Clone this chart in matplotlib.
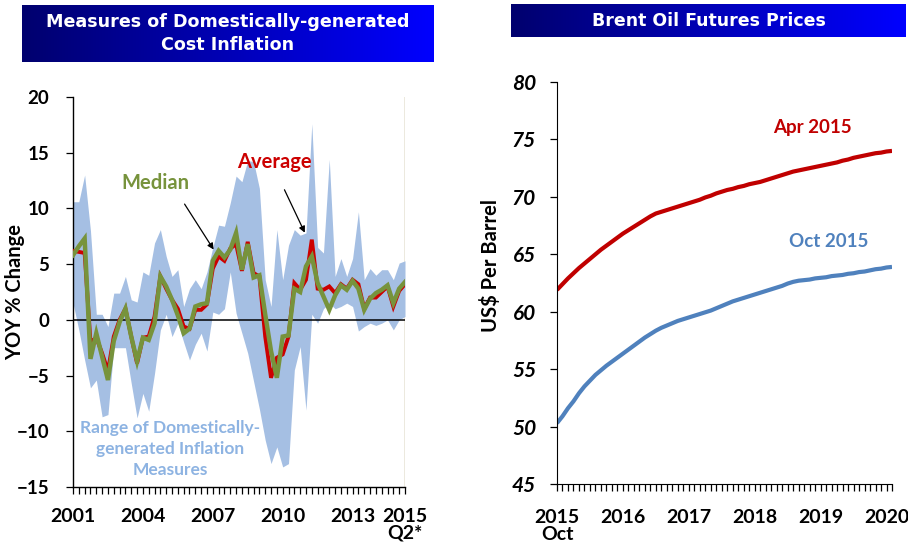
import numpy as np
import matplotlib
matplotlib.use("Agg")
import matplotlib.pyplot as plt
from matplotlib.colors import LinearSegmentedColormap

# ---------------- data: left chart (quarterly, 2001Q1 .. 2015Q2) ----------------
average = [6.2, 6.1, 6.0, -2.0, -1.6, -3.0, -4.6, -1.5, 0.0, 1.0, -1.5, -3.9, -1.6, -1.5, 0.3,
           3.9, 2.8, 1.8, 1.0, -0.6, -0.8, 0.9, 0.9, 1.4, 4.6, 5.7, 5.3, 6.4, 6.8, 4.4, 7.0,
           4.2, 3.9, -1.5, -5.2, -3.4, -3.1, -1.5, 3.3, 2.7, 3.6, 7.2, 2.8, 2.7, 3.0, 2.4, 3.2,
           2.8, 3.6, 3.2, 1.0, 2.0, 2.0, 2.5, 3.0, 1.2, 2.6, 3.2]
median = [5.8, 6.6, 7.3, -3.5, -1.2, -3.3, -5.4, -1.9, -0.2, 1.0, -1.5, -3.7, -1.6, -1.8, -0.3,
          3.9, 3.0, 1.8, 0.4, -1.2, -0.8, 1.2, 1.4, 1.5, 5.3, 6.2, 5.6, 6.3, 7.8, 4.5, 6.8,
          3.8, 4.0, 0.5, -2.8, -5.2, -1.5, -1.4, 2.8, 2.5, 4.8, 5.7, 3.3, 2.1, 0.9, 2.2, 3.1,
          2.7, 3.5, 2.8, 0.9, 1.9, 2.4, 2.7, 3.1, 1.5, 2.8, 3.4]
range_high = [10.6, 10.6, 13.0, 8.0, 0.5, 0.5, -0.6, 2.4, 2.4, 3.9, 1.8, 1.6, 4.3, 4.0, 6.9,
              8.1, 5.7, 3.9, 4.5, 1.2, 2.8, 3.6, 2.8, 4.3, 6.5, 8.5, 8.4, 10.5, 12.9, 12.4, 14.3,
              14.2, 11.8, 3.6, 1.2, 8.1, 3.6, 6.7, 8.1, 7.6, 7.8, 17.6, 6.5, 6.0, 14.4, 3.9, 5.5,
              3.9, 5.5, 9.7, 3.6, 4.6, 4.0, 4.5, 4.5, 3.6, 5.1, 5.3]
range_low = [1.5, -0.9, -3.6, -6.1, -5.4, -8.7, -8.5, -2.5, -2.5, -2.5, -5.7, -8.8, -6.6, -8.2, -4.8,
             -0.9, 0.5, -1.5, -0.3, -2.0, -3.6, -2.2, -1.2, -2.8, 0.7, 0.5, 1.0, 4.3, 0.6, -1.2, -3.0,
             -5.5, -8.0, -10.8, -12.9, -11.4, -13.2, -12.9, -4.5, -2.4, -8.1, 0.5, -0.3, 1.0, 1.5, 1.0, 1.2,
             1.5, 1.2, -1.0, -0.6, -0.3, -0.5, -0.3, 0.0, -0.9, 0.0, 0.3]
left_tick_labels = {0: "2001", 12: "2004", 24: "2007", 36: "2010", 48: "2013", 57: "2015\nQ2*"}

# ---------------- data: right chart (monthly, Oct 2015 .. Nov 2020) ----------------
brent_apr2015 = [61.9, 62.4, 62.9, 63.35, 63.8, 64.2, 64.6, 65.0, 65.4, 65.75, 66.1, 66.45, 66.8,
                 67.1, 67.4, 67.7, 68.0, 68.3, 68.55, 68.7, 68.85, 69.0, 69.15, 69.3, 69.45,
                 69.6, 69.75, 69.95, 70.1, 70.3, 70.45, 70.6, 70.7, 70.85, 70.95, 71.1, 71.2,
                 71.3, 71.45, 71.6, 71.75, 71.9, 72.05, 72.2, 72.3, 72.4, 72.5, 72.6, 72.7,
                 72.8, 72.9, 73.0, 73.15, 73.25, 73.4, 73.5, 73.6, 73.7, 73.8, 73.85, 73.95, 74.0]
brent_oct2015 = [50.3, 50.9, 51.6, 52.2, 52.9, 53.5, 54.0, 54.5, 54.9, 55.3, 55.65, 56.0, 56.35,
                 56.7, 57.05, 57.4, 57.75, 58.05, 58.35, 58.6, 58.8, 59.0, 59.2, 59.35, 59.5,
                 59.65, 59.8, 59.95, 60.1, 60.3, 60.5, 60.7, 60.9, 61.05, 61.2, 61.35, 61.5,
                 61.65, 61.8, 61.95, 62.1, 62.25, 62.45, 62.6, 62.7, 62.75, 62.8, 62.9, 62.95,
                 63.0, 63.1, 63.15, 63.2, 63.3, 63.35, 63.45, 63.5, 63.6, 63.7, 63.75, 63.85, 63.9]
right_tick_labels = {0: "2015\nOct", 12: "2016", 24: "2017", 36: "2018", 48: "2019", 60: "2020"}

W, H = 908, 554
fig = plt.figure(figsize=(W / 100, H / 100), dpi=100)

def fx(px):
    return px / W

def fy(py):
    return 1 - py / H

FONT = "Lato"
RED = "#cc0000"
GREEN = "#77933c"
BAND = "#a5bfe3"
LIGHTBLUE_TEXT = "#8db3e2"
BLUE = "#4f81bd"

# ---------------- title boxes ----------------
cmap = LinearSegmentedColormap.from_list("tb", ["#00006e", "#0000ff"])
grad = np.linspace(0, 1, 256).reshape(1, -1)

def title_box(x0, y0, x1, y1, text, size):
    tax = fig.add_axes([fx(x0), fy(y1), fx(x1) - fx(x0), (y1 - y0) / H])
    tax.imshow(grad, aspect="auto", cmap=cmap, extent=[0, 1, 0, 1])
    tax.set_axis_off()
    tax.text(0.5, 0.5, text, color="white", ha="center", va="center",
             fontsize=size, fontweight="bold", family="DejaVu Sans",
             linespacing=1.3, transform=tax.transAxes)

title_box(22, 5, 434, 62, "Measures of Domestically-generated\nCost Inflation", 12.6)
title_box(511, 4, 906, 37, "Brent Oil Futures Prices", 12.5)

# ---------------- left chart ----------------
ax1 = fig.add_axes([fx(73), fy(487), fx(405) - fx(73), (487 - 97) / H])
q = np.arange(len(average))
ax1.fill_between(q, range_low, range_high, color=BAND, lw=0, zorder=1)
ax1.axhline(0, color="black", lw=1.1, zorder=2)
ax1.plot(q, average, color=RED, lw=2.8, zorder=3, solid_joinstyle="miter")
ax1.plot(q, median, color=GREEN, lw=3.2, zorder=4, solid_joinstyle="miter")
ax1.set_xlim(0, len(average) - 1)
ax1.set_ylim(-15, 20)
ax1.set_yticks(np.arange(-15, 21, 5))
ax1.set_xticks(q)
ax1.set_xticklabels([left_tick_labels.get(i, "") for i in q])
for s in ["top", "right"]:
    ax1.spines[s].set_visible(False)
ax1.spines["left"].set_linewidth(1.0)
ax1.spines["bottom"].set_linewidth(1.0)
ax1.tick_params(axis="x", length=5, width=0.9, direction="out", pad=10)
ax1.tick_params(axis="y", length=5, width=0.9, direction="out", pad=12)
for lab in ax1.get_xticklabels():
    lab.set_fontfamily(FONT); lab.set_fontweight("bold"); lab.set_fontsize(14)
    lab.set_linespacing(0.95)
for lab in ax1.get_yticklabels():
    lab.set_fontfamily(FONT); lab.set_fontweight("bold"); lab.set_fontsize(13.5)
ax1.axvline(len(average) - 1, color="#e9e5d8", lw=1.2, zorder=0.5)

ax1.text(14.1, 12.3, "Median", color=GREEN, fontsize=14.5, fontweight="bold",
         family=FONT, ha="center", va="center", zorder=5)
ax1.text(34.5, 14.2, "Average", color=RED, fontsize=14.5, fontweight="bold",
         family=FONT, ha="center", va="center", zorder=5)
arrow = dict(arrowstyle="-|>", color="black", lw=0.9, mutation_scale=9)
ax1.annotate("", xy=(24.4, 6.1), xytext=(18.9, 10.6), arrowprops=arrow, zorder=5)
ax1.annotate("", xy=(40.0, 7.6), xytext=(36.1, 11.9), arrowprops=arrow, zorder=5)
ax1.text(16.7, -11.6, "Range of Domestically-\ngenerated Inflation\nMeasures",
         color=LIGHTBLUE_TEXT, fontsize=12.5, fontweight="bold", family=FONT,
         ha="center", va="center", linespacing=1.4, zorder=5)
fig.text(fx(15), fy(292), "YOY % Change", rotation=90, ha="center", va="center",
         fontsize=14.5, fontweight="bold", family=FONT)

# ---------------- right chart ----------------
ax2 = fig.add_axes([fx(557), fy(484), fx(892) - fx(557), (484 - 82) / H])
m = np.arange(len(brent_apr2015))
ax2.plot(m, brent_apr2015, color="#c00000", lw=3.0, solid_capstyle="butt")
ax2.plot(m, brent_oct2015, color=BLUE, lw=3.0, solid_capstyle="butt")
ax2.set_xlim(0, len(m) - 1)
ax2.set_ylim(45, 80)
ax2.set_yticks(np.arange(45, 81, 5))
ax2.set_xticks(m)
ax2.set_xticklabels([right_tick_labels.get(i, "") for i in m])
for s in ["top", "right"]:
    ax2.spines[s].set_visible(False)
ax2.tick_params(axis="x", length=5, width=0.9, direction="out", pad=13)
ax2.tick_params(axis="y", length=5, width=0.9, direction="out", pad=10)
for lab in ax2.get_xticklabels():
    lab.set_fontfamily(FONT); lab.set_fontweight("bold"); lab.set_fontsize(14)
    lab.set_linespacing(1.0)
for lab in ax2.get_yticklabels():
    lab.set_fontfamily(FONT); lab.set_fontweight("bold"); lab.set_fontstyle("italic")
    lab.set_fontsize(15)
ax2.text(46.6, 76.0, "Apr 2015", color="#c00000", fontsize=13.5, fontweight="bold",
         family=FONT, ha="center", va="center")
ax2.text(49.4, 66.1, "Oct 2015", color=BLUE, fontsize=13.5, fontweight="bold",
         family=FONT, ha="center", va="center")
fig.text(fx(490), fy(266), "US$ Per Barrel", rotation=90, ha="center", va="center",
         fontsize=14.5, fontweight="bold", family=FONT)

fig.savefig("out.png", dpi=100)
